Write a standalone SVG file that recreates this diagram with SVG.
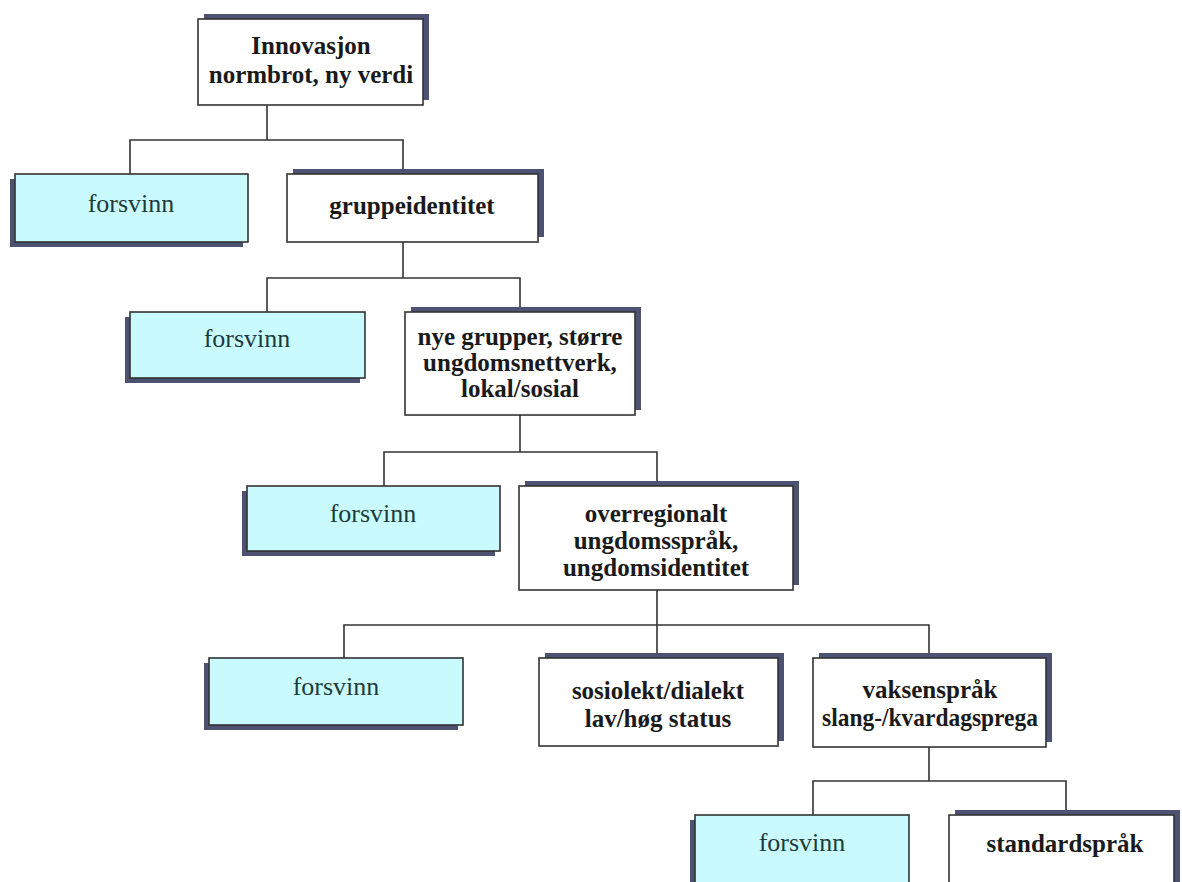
<svg xmlns="http://www.w3.org/2000/svg" width="1182" height="882" viewBox="0 0 1182 882">
<style>
.bg{fill:#ffffff}
.sh{fill:#4e5272}
.wb{fill:#ffffff;stroke:#333333;stroke-width:1.6}
.cb{fill:#c9fbfe;stroke:#333333;stroke-width:1.6}
.t{font-family:"Liberation Serif","Times New Roman",serif;font-size:25px;fill:#1a1a1a;text-anchor:middle}
.b{font-weight:bold}
.c{fill:#1d3a3a;font-size:26px}
.ln{fill:none;stroke:#333333;stroke-width:1.6}
</style>
<rect class="bg" x="0" y="0" width="1182" height="882"/>
<g id="connectors">
<polyline class="ln" points="267,105 267,140"/>
<polyline class="ln" points="130,174 130,140 403,140 403,174"/>
<polyline class="ln" points="403,242 403,278"/>
<polyline class="ln" points="267,312 267,278 520,278 520,312"/>
<polyline class="ln" points="520,415 520,452"/>
<polyline class="ln" points="384,486 384,452 657,452 657,486"/>
<polyline class="ln" points="657,590 657,625"/>
<polyline class="ln" points="344,658 344,625 929,625 929,658"/>
<polyline class="ln" points="657,625 657,658"/>
<polyline class="ln" points="929,747 929,781"/>
<polyline class="ln" points="813,815 813,781 1066,781 1066,815"/>
</g>
<g id="n-root">
<rect class="sh" x="204" y="14" width="225" height="86"/>
<rect class="wb" x="198" y="19" width="225" height="86"/>
<text class="t b" x="311" y="54">Innovasjon</text>
<text class="t b" x="311" y="83">normbrot, ny verdi</text>
</g>
<g id="n-forsvinn1">
<rect class="sh" x="10" y="179" width="233" height="68"/>
<rect class="cb" x="15" y="174" width="233" height="68"/>
<text class="t c" x="131" y="212">forsvinn</text>
</g>
<g id="n-gruppeidentitet">
<rect class="sh" x="293" y="169" width="251" height="68"/>
<rect class="wb" x="287" y="174" width="251" height="68"/>
<text class="t b" x="412" y="214">gruppeidentitet</text>
</g>
<g id="n-forsvinn2">
<rect class="sh" x="125" y="317" width="235" height="66"/>
<rect class="cb" x="130" y="312" width="235" height="66"/>
<text class="t c" x="247" y="347">forsvinn</text>
</g>
<g id="n-nyegrupper">
<rect class="sh" x="411" y="307" width="230" height="103"/>
<rect class="wb" x="405" y="312" width="230" height="103"/>
<text class="t b" x="520" y="345">nye grupper, større</text>
<text class="t b" x="520" y="371">ungdomsnettverk,</text>
<text class="t b" x="520" y="397">lokal/sosial</text>
</g>
<g id="n-forsvinn3">
<rect class="sh" x="242" y="491" width="253" height="65"/>
<rect class="cb" x="247" y="486" width="253" height="65"/>
<text class="t c" x="373" y="522">forsvinn</text>
</g>
<g id="n-overregionalt">
<rect class="sh" x="525" y="481" width="274" height="104"/>
<rect class="wb" x="519" y="486" width="274" height="104"/>
<text class="t b" x="656" y="522">overregionalt</text>
<text class="t b" x="656" y="549">ungdomsspråk,</text>
<text class="t b" x="656" y="576">ungdomsidentitet</text>
</g>
<g id="n-forsvinn4">
<rect class="sh" x="204" y="663" width="254" height="67"/>
<rect class="cb" x="209" y="658" width="254" height="67"/>
<text class="t c" x="336" y="695">forsvinn</text>
</g>
<g id="n-sosiolekt">
<rect class="sh" x="545" y="653" width="239" height="88"/>
<rect class="wb" x="539" y="658" width="239" height="88"/>
<text class="t b" x="658" y="699">sosiolekt/dialekt</text>
<text class="t b" x="658" y="727">lav/høg status</text>
</g>
<g id="n-vaksensprak">
<rect class="sh" x="819" y="653" width="233" height="89"/>
<rect class="wb" x="813" y="658" width="233" height="89"/>
<text class="t b" x="930" y="698">vaksenspråk</text>
<text class="t b" x="930" y="726" textLength="216" lengthAdjust="spacingAndGlyphs">slang-/kvardagsprega</text>
</g>
<g id="n-forsvinn5">
<rect class="sh" x="690" y="820" width="214" height="80"/>
<rect class="cb" x="695" y="815" width="214" height="80"/>
<text class="t c" x="802" y="851">forsvinn</text>
</g>
<g id="n-standardsprak">
<rect class="sh" x="955" y="810" width="225" height="80"/>
<rect class="wb" x="949" y="815" width="225" height="80"/>
<text class="t b" x="1065" y="852">standardspråk</text>
</g>
</svg>
